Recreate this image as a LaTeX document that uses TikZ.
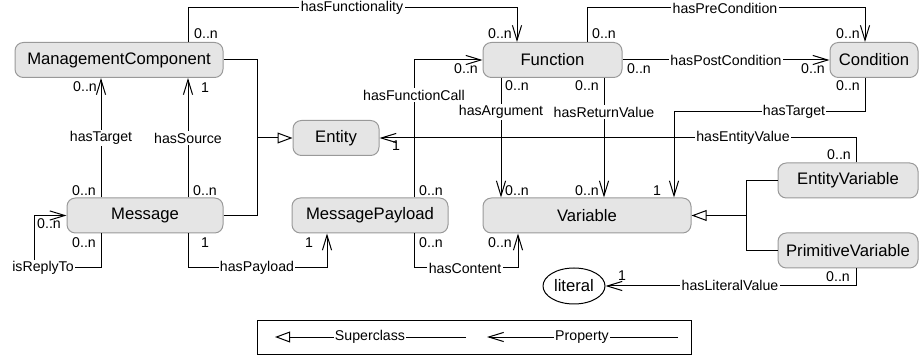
\documentclass[tikz,border=0pt]{standalone}
\usepackage{fontspec}
\setmainfont{Liberation Sans}
\usetikzlibrary{arrows.meta,shapes.geometric}

\tikzset{
  cls/.style={draw=gray!80, fill=gray!20, rounded corners=5pt, minimum height=21pt, inner sep=0pt, font=\fontsize{10}{12}\selectfont},
  lbl/.style={fill=white, inner sep=0.8pt, font=\fontsize{8.5}{10}\selectfont},
  mult/.style={inner sep=0pt, font=\fontsize{8.5}{10}\selectfont},
  prop/.style={-{Straight Barb[length=9pt,width=5.5pt]}},
  isa/.style={-{Triangle[open,length=9pt,width=6.5pt]}},
}

\begin{document}
\begin{tikzpicture}[x=0.6pt,y=-0.6pt,line width=0.6pt]
\useasboundingbox (0,0) rectangle (924,356);
% classes
\node[cls, minimum width=124.8pt] (mc) at (119,60) {ManagementComponent};
\node[cls, minimum width=51.6pt] (ent) at (336,138) {Entity};
\node[cls, minimum width=83.4pt] (fn) at (552.5,60) {Function};
\node[cls, minimum width=52.8pt] (cond) at (874,60) {Condition};
\node[cls, minimum width=93.6pt] (msg) at (145,215.5) {Message};
\node[cls, minimum width=93.6pt] (mp) at (370,215.5) {MessagePayload};
\node[cls, minimum width=124.8pt] (var) at (587,215.5) {Variable};
\node[cls, minimum width=84pt] (ev) at (848,180.5) {EntityVariable};
\node[cls, minimum width=84pt] (pv) at (848,250.5) {PrimitiveVariable};
\node[draw, ellipse, minimum width=37.2pt, minimum height=21.6pt, inner sep=0pt, font=\fontsize{10}{12}\selectfont] (lit) at (574,286) {literal};

% superclasses
\coordinate (jEnt) at (257,138);
\coordinate (jVar) at (746,215.5);
\draw (mc.east) -| (jEnt);
\draw (msg.east) -| (jEnt);
\draw[isa] (jEnt) -- (ent.west);
\draw (ev.west) -| (jVar);
\draw (pv.west) -| (jVar);
\draw[isa] (jVar) -- (var.east);

% properties
\draw[prop] (mc.north -| 188,0) -- (188,8) -| (fn.north -| 517,0);
\draw[prop] (msg.north -| 101,0) -- (mc.south -| 101,0);
\draw[prop] (msg.north -| 188,0) -- (mc.south -| 188,0);
\draw[prop] (msg.south -| 101,0) |- (34,268) |- (msg.west);
\draw[prop] (msg.south -| 188,0) |- (327,268) -- (mp.south -| 327,0);
\draw[prop] (mp.north -| 414,0) |- (fn.west);
\draw[prop] (mp.south -| 414,0) |- (518,268) -- (var.south -| 518,0);
\draw[prop] (fn.south -| 501,0) -- (var.north -| 501,0);
\draw[prop] (fn.south -| 604,0) -- (var.north -| 604,0);
\draw[prop] (fn.north -| 587,0) |- (865,8) -- (cond.north -| 865,0);
\draw[prop] (fn.east) -- (cond.west);
\draw[prop] (cond.south -| 865,0) |- (674,112) -- (var.north -| 674,0);
\draw[prop] (ev.north -| 856,0) |- (ent.east);
\draw[prop] (pv.south -| 856,0) |- (lit.east);

% property names
\node[lbl] (lFunc) at (352,8) {hasFunctionality};
\node[lbl] (lTgt) at (101,138) {hasTarget};
\node[lbl] (lSrc) at (188,138) {hasSource};
\node[lbl] (lReply) at (43,268) {isReplyTo};
\node[lbl] (lPay) at (257,268) {hasPayload};
\node[lbl] (lCall) at (414,95) {hasFunctionCall};
\node[lbl] (lCont) at (465,268) {hasContent};
\node[lbl] (lArg) at (501,112) {hasArgument};
\node[lbl] (lRet) at (604,112) {hasReturnValue};
\node[lbl] (lPre) at (725,8) {hasPreCondition};
\node[lbl] (lPost) at (726,60) {hasPostCondition};
\node[lbl] (lCTgt) at (794,112) {hasTarget};
\node[lbl] (lEnt) at (743,138) {hasEntityValue};
\node[lbl] (lLit) at (730,285) {hasLiteralValue};

% multiplicities
\node[mult] (m1) at (206,34) {0..n};
\node[mult] (m2) at (500,34) {0..n};
\node[mult] (m3) at (85,87) {0..n};
\node[mult] (m4) at (205,88) {1};
\node[mult] (m5) at (84,191) {0..n};
\node[mult] (m6) at (205,191) {0..n};
\node[mult] (m7) at (49,224) {0..n};
\node[mult] (m8) at (84,243) {0..n};
\node[mult] (m9) at (205,243) {1};
\node[mult] (m10) at (309,243) {1};
\node[mult] (m11) at (431,191) {0..n};
\node[mult] (m12) at (431,243) {0..n};
\node[mult] (m13) at (500,243) {0..n};
\node[mult] (m14) at (466,69) {0..n};
\node[mult] (m15) at (517,86) {0..n};
\node[mult] (m16) at (587,86) {0..n};
\node[mult] (m17) at (517,191) {0..n};
\node[mult] (m18) at (587,191) {0..n};
\node[mult] (m19) at (604,34) {0..n};
\node[mult] (m20) at (639,69) {0..n};
\node[mult] (m21) at (813,69) {0..n};
\node[mult] (m22) at (848,34) {0..n};
\node[mult] (m23) at (848,86) {0..n};
\node[mult] (m24) at (657,191) {1};
\node[mult] (m25) at (839,155) {0..n};
\node[mult] (m26) at (396,146) {1};
\node[mult] (m27) at (838,277) {0..n};
\node[mult] (m28) at (622,276) {1};

% legend
\node[draw, minimum width=260.4pt, minimum height=20.4pt, inner sep=0pt] (legend) at (474,337) {};
\coordinate (supA) at (466,337);
\coordinate (supB) at (275,337);
\coordinate (propA) at (678,337);
\coordinate (propB) at (487,337);
\draw[isa] (supA) -- (supB);
\draw[prop] (propA) -- (propB);
\node[lbl] (lSup) at (370,337) {Superclass};
\node[lbl] (lProp) at (582,337) {Property};
\end{tikzpicture}
\end{document}
